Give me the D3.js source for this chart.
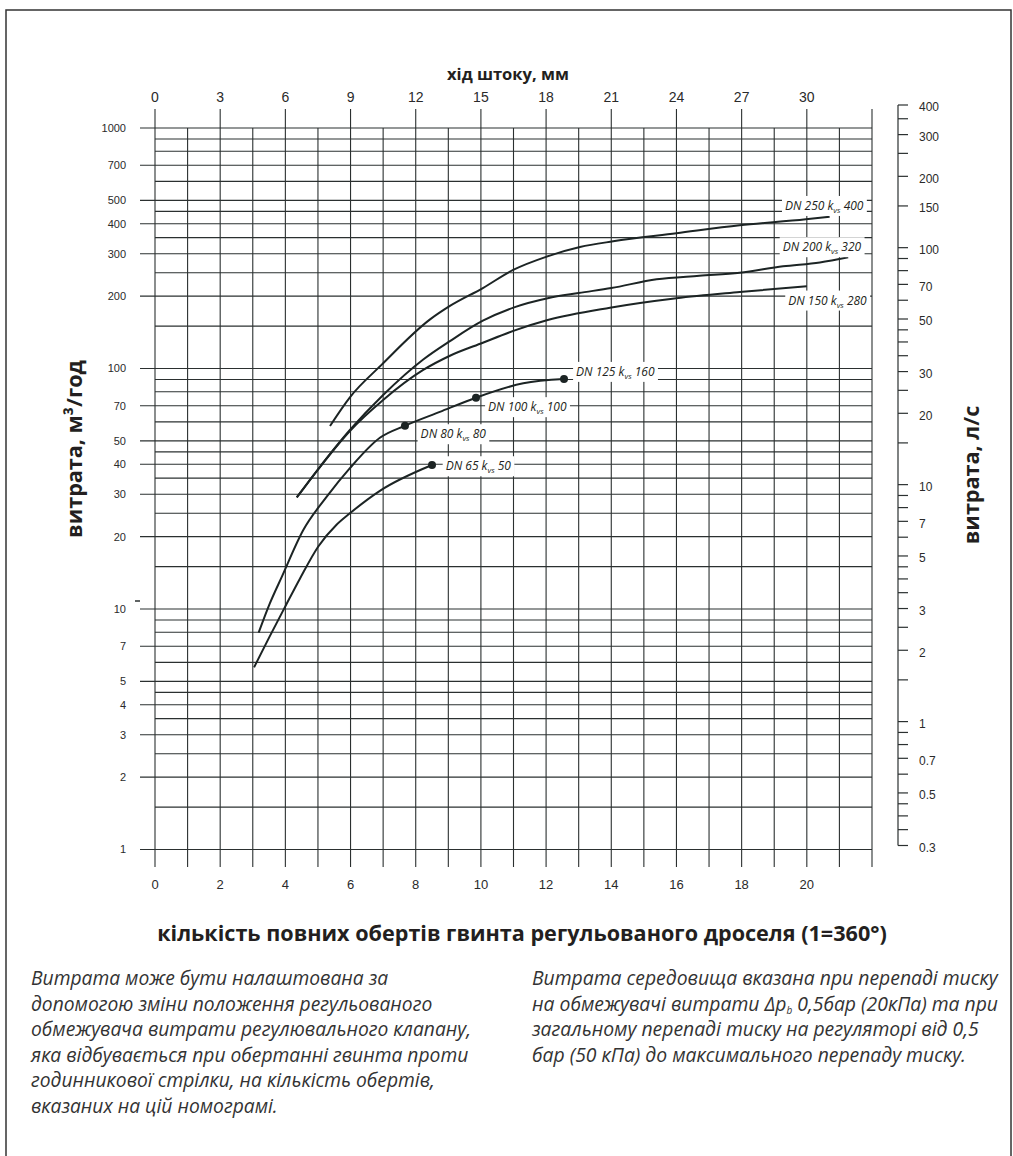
<!DOCTYPE html>
<html lang="uk">
<head>
  <meta charset="UTF-8">
  <title>Номограма обмежувача витрати</title>
  <script src="https://d3js.org/d3.v7.min.js"></script>
  <style>
      body {
          margin: 0;
          padding: 0;
          background: #fff;
          overflow: hidden;
      }
      svg {
          display: block;
      }
      .num {
          font-family: "Liberation Sans", Arial, sans-serif;
          fill: #2a2a2a;
      }
      .title {
          font-family: "Open Sans", "Noto Sans", sans-serif;
          font-weight: 700;
          fill: #231f20;
      }
      .note {
          font-family: "Open Sans", "Noto Sans", sans-serif;
          font-style: italic;
          fill: #333;
      }
      .curve-label {
          font-family: "Open Sans", "Noto Sans", sans-serif;
          font-style: italic;
          fill: #231f20;
      }
  </style>
</head>
<body>
  <svg width="1013" height="1156"></svg>
  <script>
      // ---- data ----
      // x: number of full turns of the throttle screw, y: flow, m3/h (log)
      const turnTicks = [0, 2, 4, 6, 8, 10, 12, 14, 16, 18, 20];
      const strokeTicks = [0, 3, 6, 9, 12, 15, 18, 21, 24, 27, 30];
      const flowGrid = [1, 1.5, 2, 2.5, 3, 3.5, 4, 4.5, 5, 6, 7, 8, 9,
                        10, 15, 20, 25, 30, 35, 40, 45, 50, 60, 70, 80, 90,
                        100, 150, 200, 250, 300, 350, 400, 450, 500, 600, 700, 800, 900, 1000];
      const flowLabels = [1, 2, 3, 4, 5, 7, 10, 20, 30, 40, 50, 70, 100, 200, 300, 400, 500, 700, 1000];
      // right hand scale, l/s
      const lsTicks = [0.3, 0.35, 0.4, 0.45, 0.5, 0.6, 0.7, 0.8, 0.9,
                       1, 1.5, 2, 2.5, 3, 3.5, 4, 4.5, 5, 6, 7, 8, 9,
                       10, 15, 20, 25, 30, 35, 40, 45, 50, 60, 70, 80, 90,
                       100, 150, 200, 250, 300, 350, 400];
      const lsLabels = [0.3, 0.5, 0.7, 1, 2, 3, 5, 7, 10, 20, 30, 50, 70, 100, 150, 200, 300, 400];

      // curves: [turns, m3/h]
      const dn250 = [[5.37, 57.7], [5.98, 75.9], [6.95, 103.5], [8.44, 160], [9.05, 182], [10.06, 216],
                     [10.99, 257], [12.02, 292], [13.04, 320], [14.06, 338], [16.0, 365], [17.94, 394],
                     [19.97, 417], [20.7, 428]];
      const dn200 = [[4.35, 29.1], [5.01, 38.2], [5.98, 55.5], [7.0, 77.6], [8.23, 109], [9.05, 130],
                     [10.06, 158], [11.04, 180], [12.05, 196], [13.0, 206], [14.0, 216], [15.39, 235],
                     [16.7, 243], [17.94, 250], [19.27, 266], [20.4, 276], [21.27, 290]];
      const dn150 = [[4.35, 29.1], [5.01, 38.2], [5.98, 55], [7.0, 74], [8.23, 98.6], [9.05, 113],
                     [10.06, 128], [11.04, 144], [12.05, 159], [13.96, 179], [16.0, 196], [17.94, 208],
                     [20.0, 220]];
      const dn80to125 = [[3.18, 7.97], [3.53, 10.6], [3.89, 13.6], [4.55, 21.3], [5.27, 29.3], [5.98, 38.5],
                         [6.9, 51.5], [7.67, 57.8], [8.74, 66], [9.85, 75.6], [11.3, 86.8], [12.55, 90.4]];
      const dn65 = [[3.04, 5.72], [3.5, 7.6], [3.99, 10.2], [4.45, 13.4], [5.01, 18.2], [5.57, 22.4],
                    [5.98, 25], [6.9, 31], [8.5, 39.7]];
      const curves = [dn250, dn200, dn150, dn80to125, dn65];

      const endPoints = [[7.67, 57.8], [9.85, 75.6], [12.55, 90.4], [8.5, 39.7]];

      const curveLabels = [
          {dn: "DN 250", kvs: "400", t: 19.33, q: 475},
          {dn: "DN 200", kvs: "320", t: 19.26, q: 320},
          {dn: "DN 150", kvs: "280", t: 19.43, q: 192},
          {dn: "DN 125", kvs: "160", t: 12.92, q: 97},
          {dn: "DN 100", kvs: "100", t: 10.22, q: 69.2},
          {dn: "DN 80",  kvs: "80",  t: 8.15,  q: 53.4},
          {dn: "DN 65",  kvs: "50",  t: 8.92,  q: 39.3}
      ];

      const noteLeft = [
          "Витрата може бути налаштована за",
          "допомогою зміни положення регульованого",
          "обмежувача витрати регулювального клапану,",
          "яка відбувається при обертанні гвинта проти",
          "годинникової стрілки, на кількість обертів,",
          "вказаних на цій номограмі."
      ];
      const noteRight = [
          "Витрата середовища вказана при перепаді тиску",
          "на обмежувачі витрати Δp|b| 0,5бар (20кПа) та при",
          "загальному перепаді тиску на регуляторі від 0,5",
          "бар (50 кПа) до максимального перепаду тиску."
      ];

      // ---- layout ----
      const svg = d3.select("svg");
      const gridLeft = 155, gridRight = 872, gridTop = 128, gridBottom = 849.5;
      const lineColor = "#2b3030";

      const x = d3.scaleLinear().domain([0, 22]).range([gridLeft, gridRight]);
      const xMm = d3.scaleLinear().domain([0, 33]).range([gridLeft, gridRight]);
      const y = d3.scaleLog().domain([1, 1000]).range([gridBottom, gridTop]);
      const yLs = d3.scaleLog().domain([0.3, 400]).range([845.5, 105]);

      // frame
      svg.append("rect")
          .attr("x", 6).attr("y", 10)
          .attr("width", 1005).attr("height", 1200)
          .attr("fill", "none")
          .attr("stroke", "#333")
          .attr("stroke-width", 1.5);

      // vertical grid (one line per turn)
      const grid = svg.append("g").attr("stroke", lineColor).attr("stroke-width", 1.1);
      grid.selectAll("line.v")
          .data(d3.range(0, 23))
          .join("line")
          .attr("class", "v")
          .attr("x1", d => x(d)).attr("x2", d => x(d))
          .attr("y1", d => (d % 2 === 0 ? 109 : gridTop))
          .attr("y2", 867);

      // horizontal grid
      grid.selectAll("line.h")
          .data(flowGrid)
          .join("line")
          .attr("class", "h")
          .attr("x1", d => (flowLabels.includes(d) ? 140 : gridLeft))
          .attr("x2", gridRight)
          .attr("y1", d => y(d)).attr("y2", d => y(d));

      // stray dash above "10" on the original
      svg.append("line")
          .attr("x1", 135).attr("x2", 140)
          .attr("y1", y(10) - 8).attr("y2", y(10) - 8)
          .attr("stroke", lineColor).attr("stroke-width", 1.5);

      // left axis labels
      svg.append("g").selectAll("text")
          .data(flowLabels)
          .join("text")
          .attr("class", "num")
          .attr("x", 126)
          .attr("y", d => y(d))
          .attr("dy", "0.36em")
          .attr("text-anchor", "end")
          .attr("font-size", 11)
          .text(d => d);

      // bottom axis labels
      svg.append("g").selectAll("text")
          .data(turnTicks)
          .join("text")
          .attr("class", "num")
          .attr("x", d => x(d))
          .attr("y", 889)
          .attr("text-anchor", "middle")
          .attr("font-size", 13)
          .text(d => d);

      // top axis labels (stroke, mm)
      svg.append("g").selectAll("text")
          .data(strokeTicks)
          .join("text")
          .attr("class", "num")
          .attr("x", d => xMm(d))
          .attr("y", 102)
          .attr("text-anchor", "middle")
          .attr("font-size", 14)
          .text(d => d);

      // right axis, l/s
      const rightX = 898;
      const right = svg.append("g").attr("stroke", lineColor).attr("stroke-width", 1.2);
      right.append("line")
          .attr("x1", rightX).attr("x2", rightX)
          .attr("y1", yLs(400)).attr("y2", yLs(0.3));
      right.selectAll("line.t")
          .data(lsTicks)
          .join("line")
          .attr("class", "t")
          .attr("x1", rightX).attr("x2", rightX + 10)
          .attr("y1", d => yLs(d)).attr("y2", d => yLs(d));
      svg.append("g").selectAll("text")
          .data(lsLabels)
          .join("text")
          .attr("class", "num")
          .attr("x", 919)
          .attr("y", d => yLs(d) + 2)
          .attr("dy", "0.36em")
          .attr("font-size", 12)
          .text(d => d);

      // curves
      const line = d3.line()
          .x(d => x(d[0]))
          .y(d => y(d[1]))
          .curve(d3.curveMonotoneX);

      svg.append("g").selectAll("path")
          .data(curves)
          .join("path")
          .attr("d", line)
          .attr("fill", "none")
          .attr("stroke", "#1c2424")
          .attr("stroke-width", 2);

      svg.append("g").selectAll("circle")
          .data(endPoints)
          .join("circle")
          .attr("cx", d => x(d[0]))
          .attr("cy", d => y(d[1]))
          .attr("r", 4)
          .attr("fill", "#1c2424");

      // curve labels on white boxes
      const labels = svg.append("g").selectAll("g")
          .data(curveLabels)
          .join("g")
          .attr("transform", d => `translate(${x(d.t)},${y(d.q)})`);
      const labelText = labels.append("text")
          .attr("class", "curve-label")
          .attr("dy", "0.35em")
          .attr("font-size", 12);
      labelText.append("tspan").text(d => d.dn + " k");
      labelText.append("tspan")
          .attr("font-size", 8)
          .attr("dy", 3)
          .text("vs");
      labelText.append("tspan")
          .attr("dy", -3)
          .text(d => " " + d.kvs);
      labels.each(function() {
          const g = d3.select(this);
          const b = g.select("text").node().getBBox();
          g.insert("rect", "text")
              .attr("x", b.x - 3).attr("y", b.y - 1)
              .attr("width", b.width + 6).attr("height", b.height + 2)
              .attr("fill", "#fff");
      });

      // titles: the long bottom one sets the size for the side ones
      function fitWidth(sel, width) {
          const len = sel.node().getComputedTextLength();
          const fs = parseFloat(sel.attr("font-size"));
          sel.attr("font-size", fs * width / len);
          return fs * width / len;
      }

      const bottomTitle = svg.append("text")
          .attr("class", "title")
          .attr("x", 522).attr("y", 941)
          .attr("text-anchor", "middle")
          .attr("font-size", 18)
          .text("кількість повних обертів гвинта регульованого дроселя (1=360°)");
      const titleSize = fitWidth(bottomTitle, 730);

      const topTitle = svg.append("text")
          .attr("class", "title")
          .attr("x", 508).attr("y", 80)
          .attr("text-anchor", "middle")
          .attr("font-size", titleSize)
          .text("хід штоку, мм");
      fitWidth(topTitle, 122);

      svg.append("text")
          .attr("class", "title")
          .attr("transform", "translate(82,449) rotate(-90)")
          .attr("text-anchor", "middle")
          .attr("font-size", titleSize)
          .text("витрата, м³/год");

      svg.append("text")
          .attr("class", "title")
          .attr("transform", "translate(979,475) rotate(-90)")
          .attr("text-anchor", "middle")
          .attr("font-size", titleSize)
          .text("витрата, л/с");

      // notes under the chart
      function note(lines, x0, refIndex, refWidth) {
          const g = svg.append("g");
          const t = g.selectAll("text")
              .data(lines)
              .join("text")
              .attr("class", "note")
              .attr("x", x0)
              .attr("y", (d, i) => 985 + i * 25.6)
              .attr("font-size", 16);
          t.each(function(d) {
              const el = d3.select(this);
              d.split("|").forEach((part, i) => {
                  const s = el.append("tspan").text(part);
                  if (i === 1) s.attr("font-size", 10).attr("dy", 3);
                  if (i === 2) s.attr("dy", -3);
              });
          });
          const len = t.nodes()[refIndex].getComputedTextLength();
          t.attr("font-size", 16 * refWidth / len);
      }
      note(noteLeft, 31, 2, 440);
      note(noteRight, 532, 0, 466);
  </script>
</body>
</html>
